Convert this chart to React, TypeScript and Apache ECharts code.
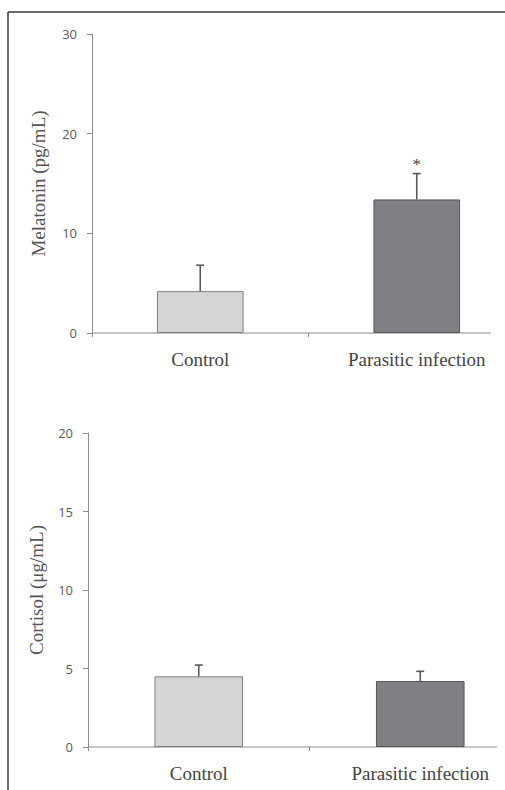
import React, { useEffect, useRef } from "react";
import * as echarts from "echarts";

const categories = ["Control", "Parasitic infection"];
const melatonin = [4.2, 13.4];
const melatoninErr = [2.6, 2.6];
const melatoninSig = ["", "*"];
const cortisol = [4.5, 4.2];
const cortisolErr = [0.72, 0.62];
const cortisolSig = ["", ""];
const melatoninAxis = { min: 0, max: 30, interval: 10 };
const cortisolAxis = { min: 0, max: 20, interval: 5 };

const barFill = ["#d5d5d7", "#808084"];
const barBorder = ["#7d7d7d", "#555558"];
const axisColor = "#8c8c8c";
const serif = "'Liberation Serif', 'Times New Roman', serif";
const sans = "'Open Sans', 'Noto Sans', sans-serif";

function makeErrRender(sigs: string[]) {
  return (params: any, api: any) => {
    const x = api.value(0);
    const mean = api.value(1);
    const err = api.value(2);
    const base = api.coord([x, mean]);
    const top = api.coord([x, mean + err]);
    const children: any[] = [
      {
        type: "line",
        shape: { x1: base[0], y1: base[1], x2: top[0], y2: top[1] },
        style: { stroke: "#595959", lineWidth: 1.6 },
      },
      {
        type: "line",
        shape: { x1: top[0] - 4, y1: top[1], x2: top[0] + 4, y2: top[1] },
        style: { stroke: "#595959", lineWidth: 1.6 },
      },
    ];
    const s = sigs[params.dataIndex];
    if (s) {
      children.push({
        type: "text",
        style: {
          text: s,
          x: top[0],
          y: top[1] - 1,
          align: "center",
          verticalAlign: "bottom",
          fontSize: 17,
          fontFamily: serif,
          fill: "#444",
        },
      });
    }
    return { type: "group", children };
  };
}

export default function App() {
  const ref = useRef<HTMLDivElement>(null);
  useEffect(() => {
    if (!ref.current) return;
    const chart = echarts.init(ref.current, null, { renderer: "svg" });

    const xAxisBase = (gridIndex: number) => ({
      type: "category",
      gridIndex,
      data: categories,
      axisLine: { show: false },
      axisTick: { show: true, length: 4, lineStyle: { color: axisColor } },
      axisLabel: {
        color: "#454545",
        fontFamily: serif,
        fontSize: 19,
        margin: 17,
      },
    });
    const yAxisBase = (gridIndex: number, cfg: any, name: string, gap: number, margin: number) => ({
      type: "value",
      gridIndex,
      min: cfg.min,
      max: cfg.max,
      interval: cfg.interval,
      name,
      nameLocation: "middle",
      nameGap: gap,
      nameTextStyle: { color: "#555", fontFamily: serif, fontSize: 19 },
      axisLine: { show: true, lineStyle: { color: axisColor, width: 1 } },
      axisTick: { show: true, length: 5, lineStyle: { color: axisColor } },
      splitLine: { show: false },
      axisLabel: { color: "#595959", fontFamily: sans, fontSize: 13, margin },
    });

    const barData = (vals: number[]) =>
      vals.map((v, i) => ({
        value: v,
        itemStyle: { color: barFill[i], borderColor: barBorder[i], borderWidth: 1 },
      }));
    const errData = (vals: number[], errs: number[]) =>
      vals.map((v, i) => [i, v, errs[i]]);

    const option: any = {
      animation: false,
      backgroundColor: "#ffffff",
      grid: [
        { left: 92, top: 34, width: 433, height: 299, outerBoundsMode: "none", containLabel: false },
        { left: 88, top: 433, width: 443, height: 314, outerBoundsMode: "none", containLabel: false },
      ],
      xAxis: [xAxisBase(0), xAxisBase(1)],
      yAxis: [
        yAxisBase(0, melatoninAxis, "Melatonin (pg/mL)", 44, 15),
        yAxisBase(1, cortisolAxis, "Cortisol (μg/mL)", 42, 15),
      ],
      series: [
        {
          type: "bar",
          xAxisIndex: 0,
          yAxisIndex: 0,
          barWidth: "40%",
          data: barData(melatonin),
        },
        {
          type: "custom",
          xAxisIndex: 0,
          yAxisIndex: 0,
          z: 5,
          renderItem: makeErrRender(melatoninSig),
          data: errData(melatonin, melatoninErr),
        },
        {
          type: "bar",
          xAxisIndex: 1,
          yAxisIndex: 1,
          barWidth: "40%",
          data: barData(cortisol),
        },
        {
          type: "custom",
          xAxisIndex: 1,
          yAxisIndex: 1,
          z: 5,
          renderItem: makeErrRender(cortisolSig),
          data: errData(cortisol, cortisolErr),
        },
      ],
    };
    chart.setOption(option);

    const y0a = chart.convertToPixel({ yAxisIndex: 0 } as any, 0) as number;
    const y0b = chart.convertToPixel({ yAxisIndex: 1 } as any, 0) as number;
    chart.setOption({
      graphic: [
        {
          type: "line",
          shape: { x1: 8, y1: 12, x2: 8, y2: 790 },
          style: { stroke: "#3a3a3a", lineWidth: 1.5 },
          silent: true,
        },
        {
          type: "line",
          shape: { x1: 8, y1: 12, x2: 505, y2: 12 },
          style: { stroke: "#3a3a3a", lineWidth: 1.5 },
          silent: true,
        },
        {
          type: "line",
          shape: { x1: 92, y1: y0a, x2: 491, y2: y0a },
          style: { stroke: axisColor, lineWidth: 1 },
          silent: true,
        },
        {
          type: "line",
          shape: { x1: 88, y1: y0b, x2: 497, y2: y0b },
          style: { stroke: axisColor, lineWidth: 1 },
          silent: true,
        },
      ],
    });

    return () => chart.dispose();
  }, []);
  return (
    <div
      ref={ref}
      style={{ position: "absolute", left: 0, top: 0, width: 505, height: 790 }}
    />
  );
}
